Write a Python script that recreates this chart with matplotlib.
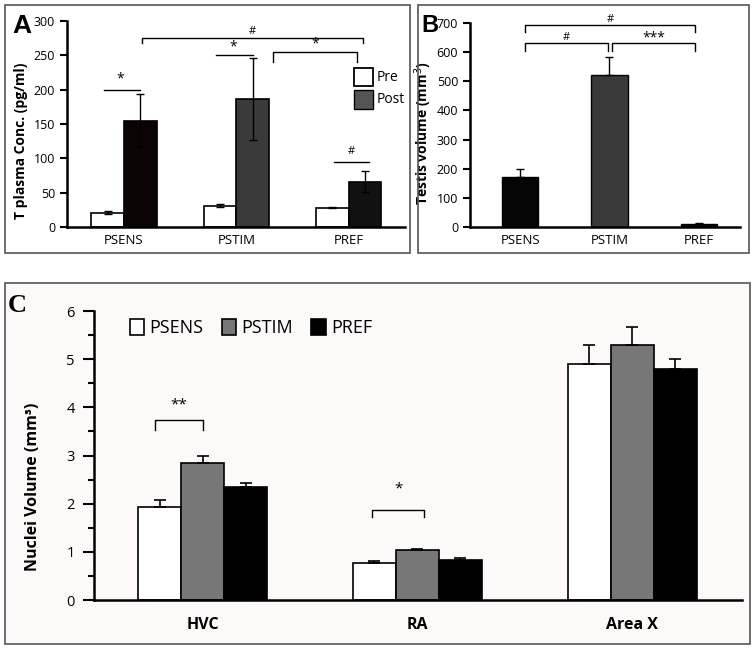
import numpy as np
import matplotlib.pyplot as plt
from matplotlib.patches import Rectangle

# ---- data ----
groups_ab = ['PSENS', 'PSTIM', 'PREF']

t_pre = [21, 31, 28]
t_pre_err = [2, 2, 1]
t_post = [155, 186, 66]
t_post_err = [38, 60, 15]
t_post_colors = ['#0c0404', '#3a3a3a', '#111111']

testis = [172, 520, 12]
testis_err = [28, 62, 2]
testis_colors = ['#050505', '#3a3a3a', '#0a0a0a']

nuclei = ['HVC', 'RA', 'Area X']
c_psens = [1.93, 0.77, 4.90]
c_psens_err = [0.15, 0.03, 0.40]
c_pstim = [2.85, 1.04, 5.30]
c_pstim_err = [0.15, 0.02, 0.37]
c_pref = [2.35, 0.84, 4.80]
c_pref_err = [0.07, 0.03, 0.20]

tick_font = 'Open Sans'
W, H = 754, 650
fig = plt.figure(figsize=(W / 100, H / 100), dpi=100)


def fr(x0, y0, x1, y1):
    # pixel box -> figure fraction [left, bottom, width, height]
    return [x0 / W, 1 - y1 / H, (x1 - x0) / W, (y1 - y0) / H]


# panel borders
fig.patches.append(Rectangle((5 / W, 1 - 253 / H), 405 / W, 248 / H, transform=fig.transFigure,
                             fill=False, ec='#555555', lw=1.2))
fig.patches.append(Rectangle((418 / W, 1 - 253 / H), 331 / W, 248 / H, transform=fig.transFigure,
                             fill=False, ec='#555555', lw=1.2))
fig.patches.append(Rectangle((5 / W, 1 - 644 / H), 745 / W, 361 / H, transform=fig.transFigure,
                             fc='#fdf9f9', ec='#555555', lw=1.2, zorder=-1))


def style_axis(ax):
    for s in ['top', 'right']:
        ax.spines[s].set_visible(False)
    ax.spines['left'].set_linewidth(1.8)
    ax.spines['bottom'].set_linewidth(1.8)
    ax.tick_params(axis='y', direction='out', width=1.5, length=5, labelsize=9)
    ax.tick_params(axis='x', length=0, labelsize=9.5, pad=5)
    ax.patch.set_alpha(0)
    for lab in ax.get_xticklabels() + ax.get_yticklabels():
        lab.set_fontfamily(tick_font)


def bracket(ax, x0, x1, y, leg, text, ty, size=10):
    ax.plot([x0, x0, x1, x1], [y - leg, y, y, y - leg], color='black', lw=1)
    ax.text((x0 + x1) / 2, ty, text, ha='center', va='center', fontsize=size, family=tick_font)


def up_only(err):
    return [np.zeros(len(err)), err]


# ---- panel A ----
axA = fig.add_axes(fr(67, 21, 405, 227))
x = np.arange(3)
w = 0.29
axA.bar(x - w / 2, t_pre, w, color='white', edgecolor='black', lw=1.2,
        yerr=t_pre_err, error_kw=dict(lw=1, capsize=3, capthick=1))
axA.bar(x + w / 2, t_post, w, color=t_post_colors, edgecolor='black', lw=1.2,
        yerr=t_post_err, error_kw=dict(lw=1, capsize=3, capthick=1))
axA.set_xlim(-0.507, 2.5)
axA.set_ylim(0, 300)
axA.set_yticks(range(0, 301, 50))
axA.set_xticks(x)
axA.set_xticklabels(groups_ab)
axA.set_ylabel('T plasma Conc. (pg/ml)', fontsize=10, fontweight='bold', family=tick_font)
axA.yaxis.set_label_coords(-0.115, 0.42)
style_axis(axA)
# significance marks
axA.plot([-0.18, 0.14], [200, 200], color='black', lw=1)
axA.text(-0.03, 215, '*', ha='center', va='center', fontsize=10, family=tick_font)
axA.plot([0.82, 1.15], [250, 250], color='black', lw=1)
axA.text(0.97, 262, '*', ha='center', va='center', fontsize=10, family=tick_font)
bracket(axA, 1.33, 2.07, 255, 15, '*', 266)
bracket(axA, 0.16, 2.13, 275, 7, '#', 284, size=8)
axA.plot([1.87, 2.18], [95, 95], color='black', lw=1)
axA.text(2.02, 110, '#', ha='center', va='center', fontsize=8, family=tick_font)
# legend
axA.add_patch(Rectangle((2.045, 205), 0.17, 27, transform=axA.transData, fc='white', ec='black', lw=1.3,
                        clip_on=False))
axA.add_patch(Rectangle((2.045, 172), 0.17, 27, transform=axA.transData, fc='#555555', ec='black', lw=1,
                        clip_on=False))
axA.text(2.25, 218, 'Pre', va='center', fontsize=10, family=tick_font)
axA.text(2.25, 185, 'Post', va='center', fontsize=10, family=tick_font)

# ---- panel B ----
axB = fig.add_axes(fr(470, 23, 740, 227))
axB.bar(x, testis, 0.41, color=testis_colors, edgecolor='black', lw=1,
        yerr=up_only(testis_err), error_kw=dict(lw=1, capsize=3, capthick=1))
axB.set_xlim(-0.56, 2.46)
axB.set_ylim(0, 700)
axB.set_yticks(range(0, 701, 100))
axB.set_xticks(x)
axB.set_xticklabels(groups_ab)
axB.set_ylabel('Testis volume (mm$^3$)', fontsize=10, fontweight='bold', family=tick_font)
axB.yaxis.set_label_coords(-0.135, 0.46)
style_axis(axB)
bracket(axB, 0.05, 1.96, 693, 25, '#', 712, size=8)
bracket(axB, 0.05, 0.98, 631, 27, '#', 650, size=8)
bracket(axB, 1.03, 1.96, 631, 27, '***', 650, size=10)

# ---- panel C ----
axC = fig.add_axes(fr(94, 311, 742, 600))
wc = 0.2
ekw = dict(lw=1.2, capsize=4, capthick=1.2)
axC.bar(x - wc, c_psens, wc, color='white', edgecolor='black', lw=1.2, label='PSENS',
        yerr=up_only(c_psens_err), error_kw=ekw)
axC.bar(x, c_pstim, wc, color='#777777', edgecolor='black', lw=1.2, label='PSTIM',
        yerr=up_only(c_pstim_err), error_kw=ekw)
axC.bar(x + wc, c_pref, wc, color='black', edgecolor='black', lw=1.2, label='PREF',
        yerr=up_only(c_pref_err), error_kw=ekw)
axC.set_xlim(-0.505, 2.51)
axC.set_ylim(0, 6)
axC.set_yticks(range(0, 7))
axC.set_yticks(np.arange(0.5, 6, 1), minor=True)
axC.set_xticks(x)
axC.set_xticklabels(nuclei)
axC.set_ylabel('Nuclei Volume (mm\u00b3)', fontsize=11.5, fontweight='bold', family=tick_font)
axC.yaxis.set_label_coords(-0.082, 0.39)
style_axis(axC)
axC.tick_params(axis='y', labelsize=10.5, length=8, pad=6)
axC.tick_params(axis='y', which='minor', direction='out', width=1.5, length=4)
axC.tick_params(axis='x', labelsize=11.5, pad=12)
for lab in axC.get_xticklabels():
    lab.set_fontweight('bold')
bracket(axC, -0.22, 0.0, 3.73, 0.2, '**', 4.05, size=11)
bracket(axC, 0.79, 1.03, 1.87, 0.15, '*', 2.3, size=11)
axC.legend(loc='upper left', bbox_to_anchor=(0.03, 1.03), ncol=3, frameon=False,
           prop={'family': tick_font, 'size': 13}, handlelength=0.8, handleheight=1.0,
           handletextpad=0.3, columnspacing=1.0)

# panel letters
fig.text(12 / W, 1 - 33 / H, 'A', fontsize=19, fontweight='bold', family='Liberation Sans')
fig.text(421 / W, 1 - 32 / H, 'B', fontsize=17, fontweight='bold', family='Liberation Sans')
fig.text(8 / W, 1 - 312 / H, 'C', fontsize=19, fontweight='bold', family='Liberation Serif')

fig.savefig('out.png', dpi=100)
